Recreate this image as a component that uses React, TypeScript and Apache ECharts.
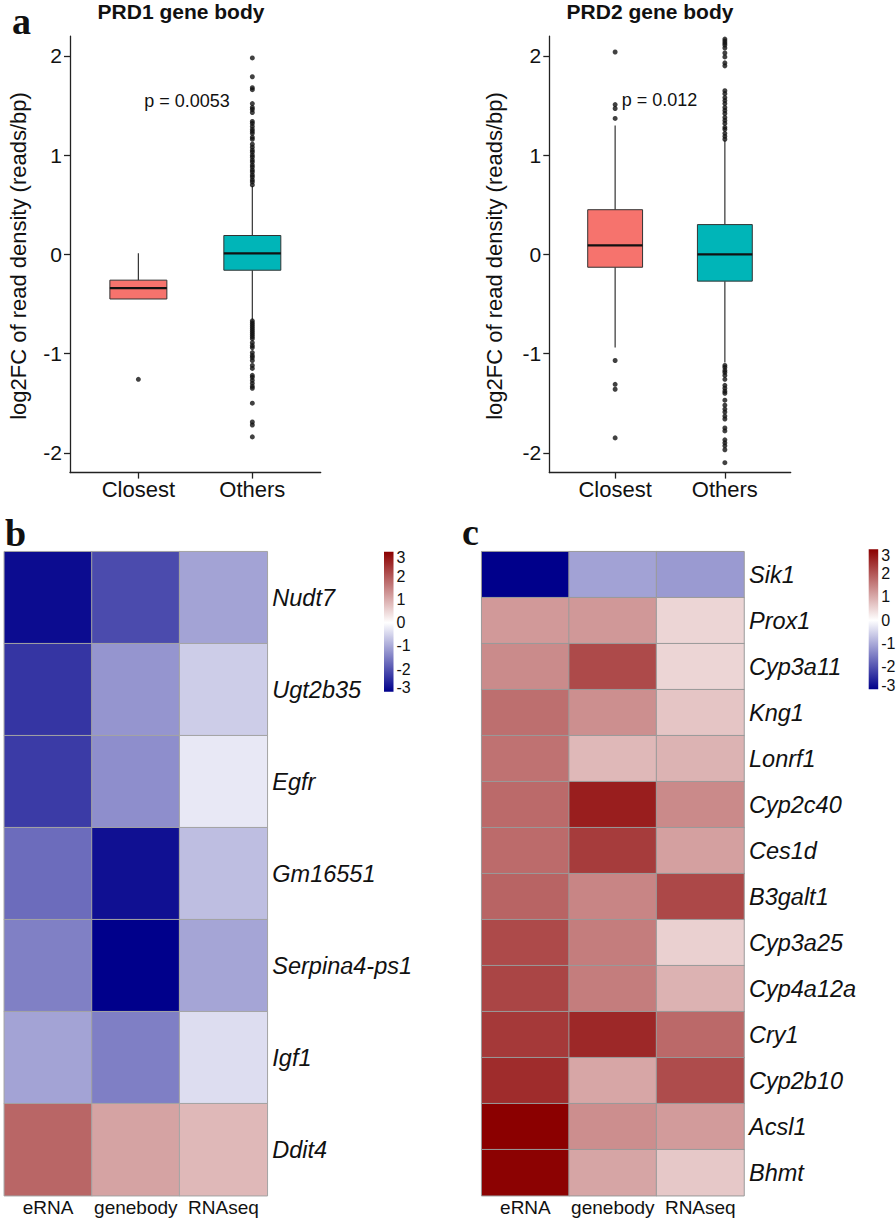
import React, { useEffect, useRef } from "react";
import * as echarts from "echarts";

// ---------- Panel a: boxplots ----------
const boxCats = ["Closest", "Others"];
// [lower whisker, Q1, median, Q3, upper whisker]
const prd1Closest = [-0.45, -0.45, -0.34, -0.26, 0.01];
const prd1Others = [-0.66, -0.16, 0.01, 0.19, 0.69];
const prd2Closest = [-0.94, -0.13, 0.09, 0.45, 1.3];
const prd2Others = [-1.09, -0.27, 0.0, 0.3, 1.15];

const prd1ClosestOut = [-1.26];
const prd1OthersOut = [
  1.98, 1.79, 1.68, 1.66, 1.52, 1.48, 1.46, 1.43, 1.34, 1.32, 1.29, 1.26, 1.24, 1.22,
  1.18, 1.16, 1.11, 1.08, 1.05, 1.03, 1.0, 0.98, 0.95, 0.93, 0.9, 0.88, 0.85, 0.83,
  0.8, 0.78, 0.75, 0.73, 0.7,
  -0.67, -0.69, -0.71, -0.73, -0.75, -0.77, -0.79, -0.81, -0.83, -0.85, -0.89, -0.92,
  -0.94, -0.99, -1.02, -1.04, -1.07, -1.12, -1.15, -1.22, -1.24, -1.27, -1.3, -1.33,
  -1.35, -1.5, -1.69, -1.72, -1.84,
];
const prd2ClosestOut = [2.04, 1.51, 1.47, 1.37, -1.07, -1.31, -1.36, -1.85];
const prd2OthersOut = [
  2.17, 2.15, 2.13, 2.11, 2.08, 2.03, 1.99, 1.93, 1.9, 1.65, 1.62, 1.58, 1.55, 1.52,
  1.48, 1.45, 1.42, 1.38, 1.35, 1.32, 1.28, 1.26, 1.22, 1.19, 1.16,
  -1.12, -1.14, -1.17, -1.19, -1.22, -1.26, -1.32, -1.35, -1.38, -1.4, -1.47, -1.52,
  -1.56, -1.59, -1.63, -1.66, -1.75, -1.78, -1.87, -1.9, -1.93, -1.97, -2.1,
];
const yTicks = [-2, -1, 0, 1, 2];
const boxTitles = ["PRD1 gene body", "PRD2 gene body"];
const pValues = ["p = 0.0053", "p = 0.012"];
const yName = "log2FC of read density (reads/bp)";
const boxColors = ["#F6736D", "#00B5B8"];

// ---------- Panels b, c: heatmaps ----------
const heatCols = ["eRNA", "genebody", "RNAseq"];
const genesB = ["Nudt7", "Ugt2b35", "Egfr", "Gm16551", "Serpina4-ps1", "Igf1", "Ddit4"];
const eRNA_B = [-3.1, -2.57, -2.5, -1.87, -1.62, -1.17, 1.95];
const genebody_B = [-2.29, -1.35, -1.44, -3.05, -3.25, -1.63, 1.17];
const rnaseq_B = [-1.17, -0.64, -0.29, -0.83, -1.15, -0.43, 0.9];

const genesC = [
  "Sik1", "Prox1", "Cyp3a11", "Kng1", "Lonrf1", "Cyp2c40", "Ces1d", "B3galt1",
  "Cyp3a25", "Cyp4a12a", "Cry1", "Cyp2b10", "Acsl1", "Bhmt",
];
const eRNA_C = [-3.25, 1.3, 1.48, 1.84, 1.8, 1.9, 1.89, 1.98, 2.31, 2.37, 2.52, 2.69, 3.25, 3.22];
const genebody_C = [-1.19, 1.31, 2.31, 1.43, 0.9, 2.87, 2.49, 1.55, 1.66, 1.66, 2.74, 1.13, 1.44, 1.15];
const rnaseq_C = [-1.29, 0.54, 0.54, 0.74, 0.97, 1.49, 1.21, 2.33, 0.6, 0.98, 1.91, 2.28, 1.27, 0.7];

const legendTicks = [3, 2, 1, 0, -1, -2, -3];
const heatColors = ["#00008B", "#FFFFFF", "#8B0000"];
const heatMin = -3.25;
const heatMax = 3.25;

const SANS = "'Liberation Sans', Arial, Helvetica, sans-serif";
const SERIF = "'Liberation Serif', 'Times New Roman', serif";
const INK = "#111";

function heatData(cols: number[][]) {
  const out: number[][] = [];
  cols.forEach((col, j) => col.forEach((v, i) => out.push([j, i, v])));
  return out;
}

function outData(closest: number[], others: number[]) {
  return [...closest.map((v) => [1, v]), ...others.map((v) => [2, v])];
}

function boxRender(params: any, api: any) {
  const x = api.value(0);
  const lo = api.coord([x, api.value(1)]);
  const q1 = api.coord([x, api.value(2)]);
  const med = api.coord([x, api.value(3)]);
  const q3 = api.coord([x, api.value(4)]);
  const hi = api.coord([x, api.value(5)]);
  const half = api.size([0.5, 0])[0] / 2;
  const stroke = "#333";
  return {
    type: "group",
    children: [
      { type: "line", shape: { x1: hi[0], y1: hi[1], x2: q3[0], y2: q3[1] }, style: { stroke, lineWidth: 1.2 } },
      { type: "line", shape: { x1: q1[0], y1: q1[1], x2: lo[0], y2: lo[1] }, style: { stroke, lineWidth: 1.2 } },
      {
        type: "rect",
        shape: { x: q3[0] - half, y: q3[1], width: half * 2, height: q1[1] - q3[1] },
        style: { fill: boxColors[params.dataIndex], stroke, lineWidth: 1 },
      },
      {
        type: "line",
        shape: { x1: med[0] - half, y1: med[1], x2: med[0] + half, y2: med[1] },
        style: { stroke: INK, lineWidth: 2.2 },
      },
    ],
  };
}

function boxAxes(gi: number) {
  const line = { show: true, onZero: false, lineStyle: { color: "#222", width: 1.3 } };
  const tick = { show: true, length: 6, lineStyle: { color: "#222", width: 1.3 } };
  const x = {
    gridIndex: gi,
    type: "value",
    min: 0.4,
    max: 2.6,
    axisLine: line,
    axisTick: { ...tick, customValues: [1, 2] },
    axisLabel: {
      customValues: [1, 2],
      formatter: (v: number) => boxCats[Math.round(v) - 1],
      fontSize: 22,
      fontFamily: SANS,
      color: INK,
      margin: 6,
    },
    splitLine: { show: false },
  };
  const y = {
    gridIndex: gi,
    type: "value",
    min: -2.2,
    max: 2.2,
    axisLine: line,
    axisTick: { ...tick, customValues: yTicks },
    axisLabel: { customValues: yTicks, fontSize: 21, fontFamily: SANS, color: INK, margin: 8 },
    splitLine: { show: false },
  };
  return { x, y };
}

function heatAxes(gi: number, genes: string[]) {
  const x = {
    gridIndex: gi,
    type: "category",
    data: heatCols,
    position: "bottom",
    axisLine: { show: false },
    axisTick: { show: false },
    axisLabel: {
      interval: 0,
      hideOverlap: false,
      fontSize: 19,
      fontFamily: SANS,
      color: INK,
      margin: 2,
    },
    splitLine: { show: false },
  };
  const y = {
    gridIndex: gi,
    type: "category",
    data: genes,
    inverse: true,
    position: "right",
    axisLine: { show: false },
    axisTick: { show: false },
    axisLabel: {
      interval: 0,
      hideOverlap: false,
      fontSize: 23.5,
      fontStyle: "italic",
      fontFamily: SANS,
      color: INK,
      margin: 5,
    },
    splitLine: { show: false },
  };
  return { x, y };
}

function txt(text: string, x: number, y: number, size: number, extra: any = {}) {
  return {
    type: "text",
    x,
    y,
    rotation: extra.rotation || 0,
    style: {
      text,
      fill: INK,
      fontSize: size,
      fontFamily: extra.family || SANS,
      fontWeight: extra.weight || "normal",
      align: extra.align || "center",
      textAlign: extra.align || "center",
      verticalAlign: "middle",
      textVerticalAlign: "middle",
    },
  };
}

function legend(left: number, top: number) {
  const w = 9.5;
  const h = 140;
  const mid = top + h * 0.507;
  const step = 23.3;
  const els: any[] = [
    {
      type: "rect",
      shape: { x: left, y: top, width: w, height: h },
      style: {
        fill: {
          type: "linear",
          x: 0,
          y: 0,
          x2: 0,
          y2: 1,
          colorStops: [
            { offset: 0, color: heatColors[2] },
            { offset: 0.507, color: heatColors[1] },
            { offset: 1, color: heatColors[0] },
          ],
        },
      },
    },
  ];
  legendTicks.forEach((v) => {
    const y = Math.min(Math.max(mid - v * step, top + 6), top + h - 4);
    els.push(txt(String(v), left + w + 3, y, 16, { align: "left" }));
  });
  return els;
}

export default function App() {
  const ref = useRef<HTMLDivElement>(null);
  useEffect(() => {
    if (!ref.current) return;
    const chart = echarts.init(ref.current, undefined, { renderer: "svg" });
    const a1 = boxAxes(0);
    const a2 = boxAxes(1);
    const hb = heatAxes(2, genesB);
    const hc = heatAxes(3, genesC);
    const grid = (left: number, top: number, width: number, height: number) => ({
      left,
      top,
      width,
      height,
      containLabel: false,
      outerBoundsMode: "none",
    });
    const option: any = {
      animation: false,
      backgroundColor: "#ffffff",
      grid: [
        grid(70, 36.1, 250.7, 436.5),
        grid(549.3, 36.1, 241.4, 436.5),
        grid(4.3, 551.7, 263, 644),
        grid(481.7, 551.7, 262.3, 644),
      ],
      xAxis: [a1.x, a2.x, hb.x, hc.x],
      yAxis: [a1.y, a2.y, hb.y, hc.y],
      visualMap: [
        {
          type: "continuous",
          show: false,
          min: heatMin,
          max: heatMax,
          dimension: 2,
          seriesIndex: [4, 5],
          inRange: { color: heatColors },
        },
      ],
      series: [
        {
          type: "custom",
          xAxisIndex: 0,
          yAxisIndex: 0,
          renderItem: boxRender,
          encode: { x: 0, y: [1, 2, 3, 4, 5] },
          data: [[1, ...prd1Closest], [2, ...prd1Others]],
          z: 2,
        },
        {
          type: "scatter",
          xAxisIndex: 0,
          yAxisIndex: 0,
          symbolSize: 5,
          itemStyle: { color: INK },
          data: outData(prd1ClosestOut, prd1OthersOut),
          z: 3,
        },
        {
          type: "custom",
          xAxisIndex: 1,
          yAxisIndex: 1,
          renderItem: boxRender,
          encode: { x: 0, y: [1, 2, 3, 4, 5] },
          data: [[1, ...prd2Closest], [2, ...prd2Others]],
          z: 2,
        },
        {
          type: "scatter",
          xAxisIndex: 1,
          yAxisIndex: 1,
          symbolSize: 5,
          itemStyle: { color: INK },
          data: outData(prd2ClosestOut, prd2OthersOut),
          z: 3,
        },
        {
          type: "heatmap",
          xAxisIndex: 2,
          yAxisIndex: 2,
          data: heatData([eRNA_B, genebody_B, rnaseq_B]),
          itemStyle: { borderColor: "#a3a3a3", borderWidth: 1 },
          emphasis: { disabled: true },
        },
        {
          type: "heatmap",
          xAxisIndex: 3,
          yAxisIndex: 3,
          data: heatData([eRNA_C, genebody_C, rnaseq_C]),
          itemStyle: { borderColor: "#9a9a9a", borderWidth: 1 },
          emphasis: { disabled: true },
        },
      ],
      graphic: [
        txt("a", 12, 20.5, 38, { family: SERIF, weight: "bold", align: "left" }),
        txt("b", 5, 533, 38, { family: SERIF, weight: "bold", align: "left" }),
        txt("c", 462, 532, 38, { family: SERIF, weight: "bold", align: "left" }),
        txt(boxTitles[0], 181, 11.5, 21, { weight: "bold" }),
        txt(boxTitles[1], 650, 11.5, 21, { weight: "bold" }),
        txt(pValues[0], 187, 100.5, 18),
        txt(pValues[1], 659.5, 100, 18),
        txt(yName, 18.3, 256, 22, { rotation: Math.PI / 2 }),
        txt(yName, 494.7, 256, 22, { rotation: Math.PI / 2 }),
        ...legend(384, 551.7),
        ...legend(868.7, 549.3),
      ],
    };
    chart.setOption(option);
    return () => chart.dispose();
  }, []);
  return (
    <div
      ref={ref}
      style={{ position: "absolute", left: 0, top: 0, width: 896, height: 1219, background: "#fff" }}
    />
  );
}
